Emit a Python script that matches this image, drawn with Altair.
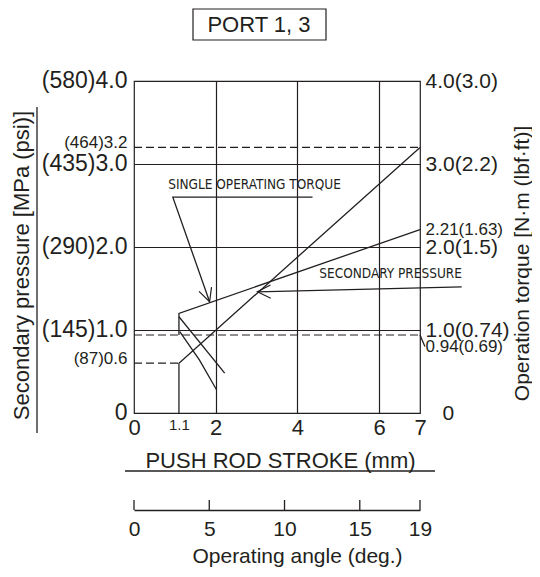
import altair as alt
import pandas as pd

INK = "#231f20"
FONT = "Liberation Sans, Arial, Helvetica, sans-serif"
NARROW = "Liberation Sans Narrow, DejaVu Sans Condensed, Arial Narrow, sans-serif"

# ---- scales / ticks ----
x_domain = [0, 7]
y_domain = [0, 4]
angle_domain = [0, 19]

x_vals = [0, 1.1, 2, 4, 6, 7]
x_labels = ["0", "1.1", "2", "4", "6", "7"]
angle_vals = [0, 5, 10, 15, 19]
left_vals = [0, 0.6, 1, 2, 3, 3.2, 4]
left_labels = ["0", "(87)0.6", "(145)1.0", "(290)2.0", "(435)3.0", "(464)3.2", "(580)4.0"]
right_vals = [0, 0.94, 1, 2, 2.21, 3, 4]
right_labels = ["0", "0.94(0.69)", "1.0(0.74)", "2.0(1.5)", "2.21(1.63)", "3.0(2.2)", "4.0(3.0)"]

# ---- series ----
pressure_x = [1.1, 1.1, 7.0]
pressure_y = [0.0, 0.6, 3.2]
torque_x = [1.1, 1.1, 7.0]
torque_y = [0.94, 1.2, 2.21]

# dashed reference levels
ref_y = [3.2, 0.94, 0.6]
ref_x_end = [7.0, 7.0, 1.1]

# leader lines (hysteresis marks, annotation leaders)
lead1_x = [1.1, 2.22]
lead1_y = [1.16, 0.48]
lead2_x = [1.12, 1.6, 2.02]
lead2_y = [0.98, 0.64, 0.28]
single_x = [4.37, 0.95, 1.85]
single_y = [2.6, 2.6, 1.34]
second_x = [8.02, 3.02]
second_y = [1.52, 1.46]
tag_x = [7.0, 7.12]
tag_y = [0.94, 0.80]

arrow_x = [1.85, 3.02]
arrow_y = [1.34, 1.46]
arrow_angle = [161, 269]

note_text = ["SINGLE OPERATING TORQUE", "SECONDARY PRESSURE"]
note_x = [2.95, 6.28]
note_y = [2.75, 1.675]


def label_expr(vals, labels):
    e = "''"
    for v, l in reversed(list(zip(vals, labels))):
        e = f"datum.value == {v} ? '{l}' : ({e})"
    return e


def xs():
    return alt.Scale(domain=x_domain, nice=False, zero=False)


YS = alt.Scale(domain=y_domain, nice=False, zero=False)

# ---- data frames ----
rows = []
for name, xv_list, yv_list in [("pressure", pressure_x, pressure_y), ("torque", torque_x, torque_y),
                               ("lead1", lead1_x, lead1_y), ("lead2", lead2_x, lead2_y),
                               ("single", single_x, single_y), ("second", second_x, second_y),
                               ("tag", tag_x, tag_y)]:
    for k, (xv, yv) in enumerate(zip(xv_list, yv_list)):
        rows.append({"series": name, "k": k, "x": xv, "y": yv})
lines_df = pd.DataFrame(rows)
refs_df = pd.DataFrame({"x0": [0] * len(ref_y), "x1": ref_x_end, "y": ref_y})
arrows_df = pd.DataFrame({"x": arrow_x, "y": arrow_y, "ang": arrow_angle})
notes_df = pd.DataFrame({"x": note_x, "y": note_y, "t": note_text})
angle_df = pd.DataFrame({"a": angle_vals})
one = pd.DataFrame({"z": [0]})

left_axis = alt.Axis(
    orient="left", values=left_vals, labelExpr=label_expr(left_vals, left_labels),
    ticks=False, domain=False, labelPadding=7, labelOverlap=False, labelFlush=False,
    labelFont=FONT, labelColor=INK,
    labelFontSize={"condition": {"test": "datum.value == 0.6 || datum.value == 3.2", "value": 17}, "value": 23},
    labelOffset={"condition": {"test": "datum.value == 0.6 || datum.value == 3.2", "value": -5}, "value": -1},
    grid=True, gridColor=INK, gridWidth=1.2,
    gridOpacity={"condition": {"test": "datum.value == 1 || datum.value == 2 || datum.value == 3", "value": 1}, "value": 0},
    title="Secondary pressure [MPa (psi)]", titleFont=FONT, titleFontSize=22, titleFontWeight="normal",
    titleColor=INK, titleAngle=270, titleX=-113, titleY=184, titleAlign="center", titleBaseline="middle",
)
right_axis = alt.Axis(
    orient="right", values=right_vals, labelExpr=label_expr(right_vals, right_labels),
    ticks=False, domain=False, labelOverlap=False, labelFlush=False,
    labelPadding={"condition": {"test": "datum.value == 0", "value": 22}, "value": 5},
    labelFont=FONT, labelColor=INK,
    labelFontSize={"condition": {"test": "datum.value == 0.94 || datum.value == 2.21", "value": 17}, "value": 21},
    labelOffset={"condition": {"test": "datum.value == 0.94", "value": 12}, "value": 0},
    grid=False,
    title="Operation torque [N·m (lbf·ft)]", titleFont=FONT, titleFontSize=21, titleFontWeight="normal",
    titleColor=INK, titleAngle=270, titleX=102, titleY=182, titleAlign="center", titleBaseline="middle",
)
x_axis = alt.Axis(
    orient="bottom", values=x_vals, labelExpr=label_expr(x_vals, x_labels), ticks=False,
    domain=False, labelPadding=4,
    labelFlush=False, labelOverlap=False, labelFont=FONT, labelColor=INK,
    labelFontSize={"condition": {"test": "datum.value == 1.1", "value": 15}, "value": 22},
    grid=True, gridColor=INK, gridWidth=1.2,
    gridOpacity={"condition": {"test": "datum.value == 2 || datum.value == 4 || datum.value == 6", "value": 1}, "value": 0},
    title="PUSH ROD STROKE (mm)", titleFont=FONT, titleFontSize=22, titleFontWeight="normal",
    titleColor=INK, titleX=146, titleY=47, titleBaseline="middle", titleAlign="center",
)
angle_axis = alt.Axis(
    orient="bottom", offset=97, values=angle_vals, ticks=False, domain=True, domainColor=INK,
    domainWidth=1.3, labelPadding=8, labelFlush=False, labelFont=FONT, labelColor=INK,
    labelFontSize=21, grid=False,
    title="Operating angle (deg.)", titleFont=FONT, titleFontSize=21, titleFontWeight="normal",
    titleColor=INK, titleX=163, titleY=46, titleBaseline="middle", titleAlign="center",
)

refs = alt.Chart(refs_df).mark_rule(color=INK, strokeWidth=1.2, strokeDash=[8, 4]).encode(
    x=alt.X("x0:Q", scale=xs(), axis=x_axis),
    x2="x1:Q",
    y=alt.Y("y:Q", scale=YS, axis=left_axis),
)
lines = alt.Chart(lines_df).mark_line(color=INK, strokeWidth=1.3).encode(
    x=alt.X("x:Q", scale=xs(), axis=None),
    y=alt.Y("y:Q", scale=YS, axis=right_axis),
    detail="series:N",
    order="k:O",
)
arrows = alt.Chart(arrows_df).mark_point(
    shape="M-0.5,1L0,0L0.5,1", filled=False, color=INK, strokeWidth=1.2, size=700, opacity=1
).encode(
    x=alt.X("x:Q", scale=xs(), axis=None),
    y=alt.Y("y:Q", scale=YS, axis=None),
    angle=alt.Angle("ang:Q", scale=None),
)
notes = alt.Chart(notes_df).mark_text(font=NARROW, fontSize=13.5, color=INK).encode(
    x=alt.X("x:Q", scale=xs(), axis=None),
    y=alt.Y("y:Q", scale=YS, axis=None),
    text="t:N",
)
angle_ticks = alt.Chart(angle_df).mark_rule(color=INK, strokeWidth=1.3).encode(
    x=alt.X("a:Q", scale=alt.Scale(domain=angle_domain, nice=False, zero=False), axis=angle_axis),
    y=alt.value(419),
    y2=alt.value(429),
)

# decorations: title box, axis-title underlines
box = alt.Chart(one).mark_rect(fill="white", stroke=INK, strokeWidth=1.2).encode(
    x=alt.value(59), x2=alt.value(192), y=alt.value(-72), y2=alt.value(-41)
)
port = alt.Chart(one).mark_text(text="PORT 1, 3", font=FONT, fontSize=22, color=INK).encode(
    x=alt.value(125), y=alt.value(-56)
)
x_under = alt.Chart(one).mark_rule(color=INK, strokeWidth=1.3).encode(
    x=alt.value(-9), x2=alt.value(301), y=alt.value(390)
)
y_under = alt.Chart(one).mark_rule(color=INK, strokeWidth=1.3).encode(
    x=alt.value(-97), y=alt.value(26), y2=alt.value(352)
)

chart = alt.layer(
    refs, lines, arrows, notes, angle_ticks, box, port, x_under, y_under
).resolve_scale(
    x="independent"
).resolve_axis(
    x="independent", y="independent"
).properties(
    width=286, height=332,
    padding={"left": 126, "top": 73, "right": 112, "bottom": 156},
    autosize=alt.AutoSizeParams(type="none"),
    background="white",
).configure_view(stroke=INK, strokeWidth=1.2)

chart.save("out.html", embed_options={"renderer": "svg", "actions": False})
